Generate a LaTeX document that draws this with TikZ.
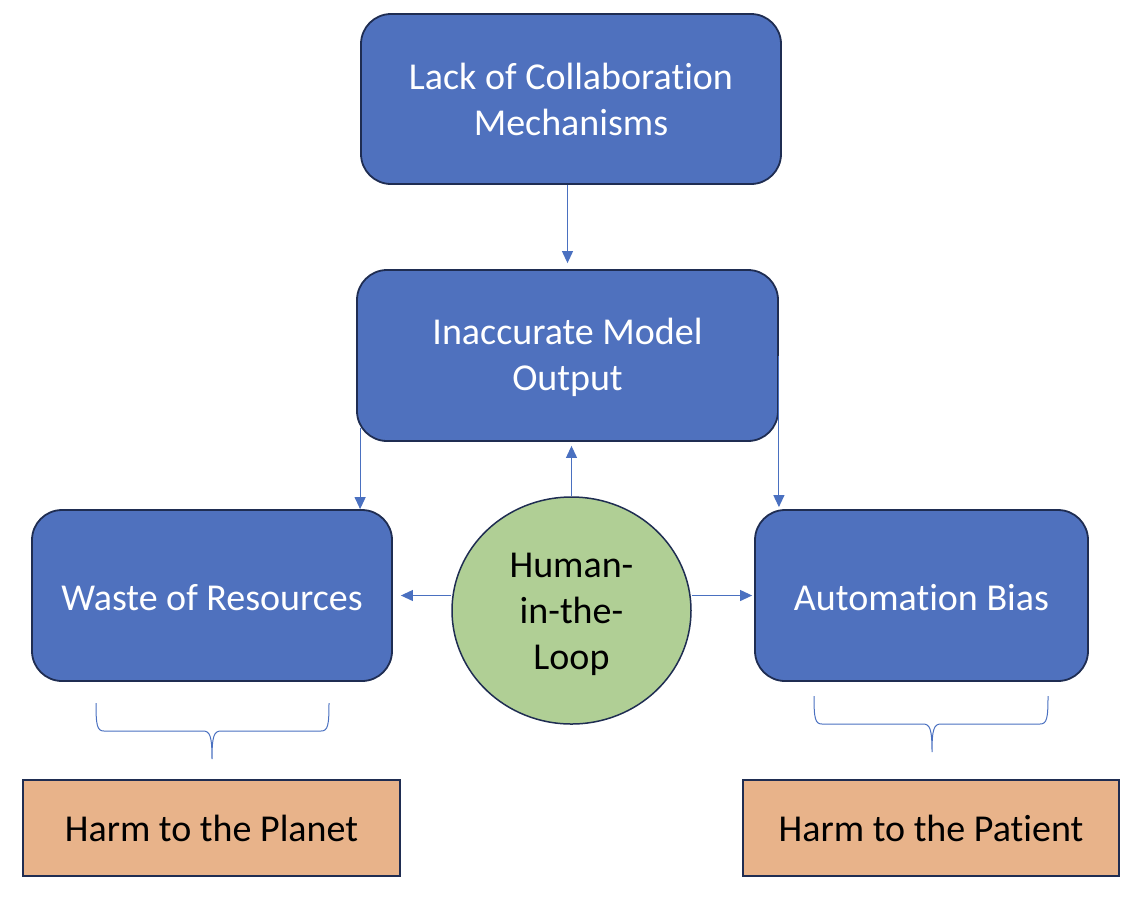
\documentclass[tikz,border=0pt]{standalone}
\usepackage{fontspec}
\setmainfont[RawFeature={-liga;-clig;-dlig;-calt}]{Carlito}
\usetikzlibrary{arrows.meta,shapes.geometric}
\definecolor{boxblue}{HTML}{4F71BE}
\definecolor{navy}{HTML}{1F2D52}
\definecolor{linkblue}{HTML}{4A70C0}
\definecolor{hitlgreen}{HTML}{B0CF95}
\definecolor{harmfill}{HTML}{E8B38A}
\newcommand{\lowertext}[2]{\raisebox{-#1}[\height][\depth]{#2}}
\begin{document}
\begin{tikzpicture}[x=1pt,y=-1pt,
  bluebox/.style={draw=navy, line width=1.8pt, fill=boxblue, rounded corners=30pt,
    text=white, font=\fontsize{38}{46}\selectfont, align=center, inner sep=0pt,
    minimum height=171pt},
  harmbox/.style={draw=navy, line width=2pt, fill=harmfill, text=black,
    font=\fontsize{38}{46}\selectfont, align=center, inner sep=0pt,
    minimum height=96pt},
  hitlnode/.style={ellipse, draw=navy, line width=1.5pt, fill=hitlgreen, text=black,
    font=\fontsize{38}{46}\selectfont, inner sep=0pt,
    minimum width=239pt, minimum height=227pt},
  arr/.style={draw=linkblue, line width=1.1pt, -{Triangle[width=11pt,length=12pt]}},
  bracecurve/.style={draw=linkblue, line width=1pt}
]
\useasboundingbox (0,0) rectangle (1142,914);

\node[bluebox, minimum width=420pt, minimum height=170pt] (top) at (571,99)
  {Lack of Collaboration\\Mechanisms};
\node[bluebox, minimum width=421pt] (mid) at (567.5,355.5)
  {\lowertext{3pt}{\begin{tabular}{@{}c@{}}Inaccurate Model\\Output\end{tabular}}};
\node[bluebox, minimum width=360pt] (left) at (212,595.5) {\lowertext{2pt}{Waste of Resources}};
\node[bluebox, minimum width=333pt] (right) at (921.5,595.5) {\lowertext{2pt}{Automation Bias}};
\node[hitlnode] (hitl) at (571.5,610.5)
  {\lowertext{4pt}{\begin{tabular}{@{}c@{}}Human-\\in-the-\\Loop\end{tabular}}};
\node[harmbox, minimum width=377pt] (planet) at (211.5,828) {Harm to the Planet};
\node[harmbox, minimum width=376pt] (patient) at (931,828) {Harm to the Patient};

% arrows
\draw[arr, shorten >=6pt] (top.south -| mid.north) -- (mid.north);
\draw[arr, shorten >=4pt] (hitl.north) -- (hitl.north |- mid.south);
\draw[arr] ([xshift=4pt,yshift=14pt]mid.south west) -- ([xshift=4pt]mid.south west |- left.north);
\draw[arr, shorten >=2pt] (mid.east) -- (mid.east |- right.north);
\draw[arr, shorten >=8pt] (hitl.west |- left.east) -- (left.east);
\draw[arr, shorten >=2pt] (hitl.east |- right.west) -- (right.west);

% braces
\coordinate (lb1) at (96,703);
\coordinate (lb2) at (212,759);
\coordinate (lb3) at (329,703);
\draw[bracecurve] (lb1) .. controls (96,725) and (97,731) .. (104,731) -- (203,731)
  .. controls (210,731) and (212,736) .. (lb2)
  .. controls (212,736) and (214,731) .. (221,731) -- (321,731)
  .. controls (328,731) and (329,725) .. (lb3);
\coordinate (rb1) at (814,696);
\coordinate (rb2) at (932,752);
\coordinate (rb3) at (1048,696);
\draw[bracecurve] (rb1) .. controls (814,718) and (815,724) .. (822,724) -- (923,724)
  .. controls (930,724) and (932,729) .. (rb2)
  .. controls (932,729) and (934,724) .. (941,724) -- (1040,724)
  .. controls (1047,724) and (1048,718) .. (rb3);
\end{tikzpicture}
\end{document}
